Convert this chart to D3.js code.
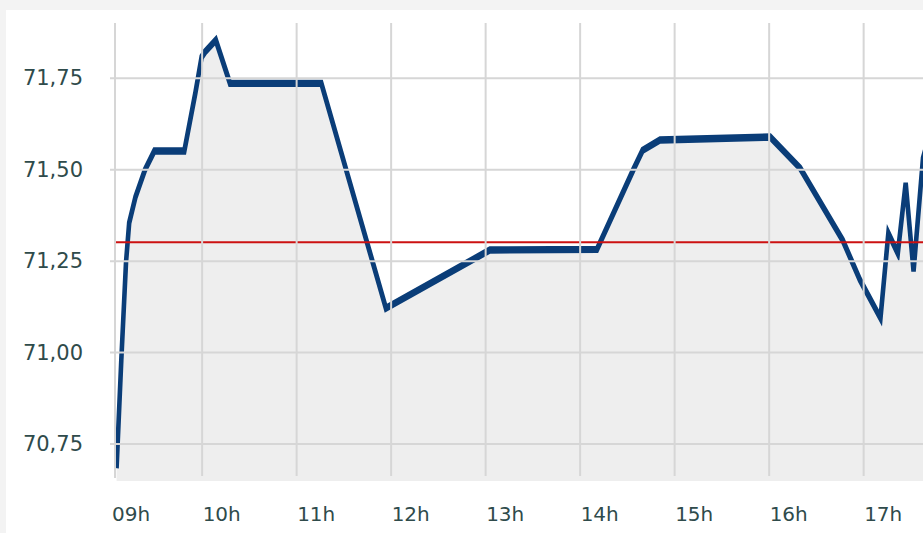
<!DOCTYPE html>
<html><head><meta charset="utf-8">
<script src="https://cdn.jsdelivr.net/npm/d3@7/dist/d3.min.js"></script>
<style>
html,body{margin:0;padding:0;background:#f3f3f3;}
svg{display:block;}
</style></head>
<body>
<script>
// ---- data ----
const times = ["09:06","09:09","09:12","09:14","09:18","09:24","09:30","09:49","09:56","10:00","10:02","10:09","10:18","11:16","11:57","13:03","14:11","14:34","14:40","14:51","16:01","16:20","16:47","16:58","17:11","17:16","17:22","17:27","17:32","17:38","17:43"];
const values = [70.682,70.978,71.246,71.353,71.424,71.498,71.55,71.55,71.708,71.807,71.82,71.853,71.735,71.735,71.12,71.279,71.281,71.498,71.552,71.58,71.588,71.503,71.306,71.197,71.093,71.325,71.27,71.462,71.221,71.53,71.607];
const refValue = 71.30;
const yTicks = [70.75, 71.00, 71.25, 71.50, 71.75];
const xTickTimes = ["09:00","10:00","11:00","12:00","13:00","14:00","15:00","16:00","17:00"];
const xDomain = ["09:05","17:38"];
const yDomain = [70.65, 71.90];

(function(){
// ---- layout ----
const W = 923, H = 533;
const parse = d3.timeParse("%H:%M");
const data = times.map((t,i)=>({t:parse(t), v:values[i]}));

const pL = 115, pR = 923, pT = 23, pB = 480;
const x = d3.scaleTime().domain(xDomain.map(parse)).range([pL, pR]);
const y = d3.scaleLinear().domain(yDomain).range([pB, pT]);

const svg = d3.select("body").append("svg").attr("width", W).attr("height", H);
svg.append("rect").attr("width", W).attr("height", H).attr("fill", "#f3f3f3");
svg.append("rect").attr("x", 6).attr("y", 10).attr("width", W-6).attr("height", H-10).attr("fill", "#ffffff");

const defs = svg.append("defs");
defs.append("clipPath").attr("id","clip").append("rect")
  .attr("x", pL).attr("y", pT-20).attr("width", pR-pL).attr("height", pB-pT+22);

const plot = svg.append("g").attr("clip-path","url(#clip)");

// area fill
const area = d3.area().x(d=>x(d.t)).y0(pB+1).y1(d=>y(d.v));
plot.append("path").datum(data).attr("d", area).attr("fill", "#eeeeee");

// blue line (slightly stretched vertically so flat parts look thicker)
const sy = 1.6;
const lineG = plot.append("g").attr("transform", `scale(1,${sy})`);
const line = d3.line().x(d=>x(d.t)).y(d=>y(d.v)/sy);
lineG.append("path").datum(data).attr("d", line)
  .attr("fill","none").attr("stroke","#0a3d78").attr("stroke-width",4.6)
  .attr("stroke-linejoin","miter").attr("stroke-linecap","butt");

// reference red line
svg.append("line").attr("x1", pL).attr("x2", pR)
  .attr("y1", y(refValue)).attr("y2", y(refValue))
  .attr("stroke","#cc1111").attr("stroke-width",2);

// horizontal grid
const gy = svg.append("g").attr("transform", `translate(${pR},0)`)
  .call(d3.axisLeft(y).tickValues(yTicks).tickSize(pR-110).tickFormat(""));
gy.select(".domain").remove();
gy.selectAll(".tick line").attr("stroke","#d6d6d6").attr("stroke-width",2);

// vertical grid
const hourTicks = xTickTimes.map(parse).filter(d => d >= x.domain()[0]);
const gx = svg.append("g").attr("transform", `translate(0,${pB-4})`)
  .call(d3.axisBottom(x).tickValues(hourTicks).tickSize(-(pB-4-pT)).tickFormat(""));
gx.select(".domain").remove();
gx.selectAll(".tick line").attr("stroke","#d6d6d6").attr("stroke-width",2);
// left axis line
svg.append("line").attr("x1", pL).attr("x2", pL).attr("y1", pT).attr("y2", pB-2)
  .attr("stroke","#d6d6d6").attr("stroke-width",2);

// y labels
const fmt = d => d3.format(".2f")(d).replace(".", ",");
svg.append("g").selectAll("text").data(yTicks).join("text")
  .attr("x", 83).attr("y", d=>y(d)).attr("dy","0.36em")
  .attr("text-anchor","end")
  .attr("font-family","DejaVu Sans").attr("font-size",21)
  .attr("fill","#2f4b4b").text(fmt);

// x labels
const hfmt = d3.timeFormat("%Hh");
svg.append("g").selectAll("text").data(xTickTimes.map(parse)).join("text")
  .attr("x", d => Math.max(x(d)+1, pL-3)).attr("y", 521)
  .attr("font-family","DejaVu Sans").attr("font-size",20)
  .attr("fill","#2f4b4b").text(hfmt);
})();
</script>
</body></html>
